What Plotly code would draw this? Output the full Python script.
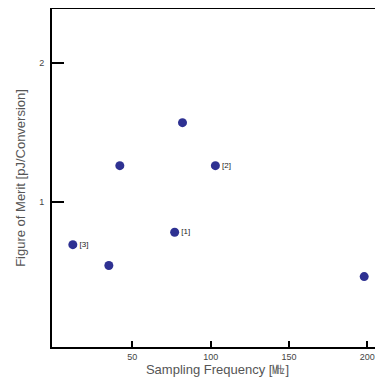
import plotly.graph_objects as go

freq = [12, 35, 42, 82, 77, 103, 198]
fom = [0.69, 0.54, 1.26, 1.57, 0.78, 1.26, 0.46]
labels = ["[3]", "", "", "", "[1]", "[2]", ""]
x_ticks = [50, 100, 150, 200]
y_ticks = [1, 2]

fig = go.Figure()
fig.add_trace(go.Scatter(
    x=freq, y=fom, mode="markers+text", text=labels,
    textposition="middle right",
    textfont=dict(size=8, color="#222222", family="Liberation Sans"),
    marker=dict(size=9, color="#2E3192"),
    cliponaxis=False,
))

# page body has an 8px margin, so the figure is offset by 8px
fig.update_layout(
    width=375, height=373,
    margin=dict(l=44, r=0, t=1, b=34, autoexpand=False),
    plot_bgcolor="white", paper_bgcolor="white",
    showlegend=False,
    font=dict(family="Liberation Sans", color="#444444"),
)
fig.update_xaxes(
    range=[-1.3, 210], tickvals=x_ticks, ticks="inside", ticklen=6, tickwidth=2,
    tickcolor="black", showline=True, linecolor="black", linewidth=2, mirror=True,
    showgrid=False, zeroline=False, tickfont=dict(size=9, color="#444444"),
    automargin=False,
    title=dict(text="Sampling Frequency [㎒]", font=dict(size=13, color="#555555"), standoff=1),
)
fig.update_yaxes(
    range=[-0.048, 2.39], tickvals=y_ticks, ticks="inside", ticklen=12, tickwidth=2,
    tickcolor="black", showline=True, linecolor="black", linewidth=2, mirror=False,
    showgrid=False, zeroline=False, tickfont=dict(size=9, color="#444444"),
    automargin=False, ticklabelstandoff=4,
    title=dict(text="Figure of Merit [pJ/Conversion]", font=dict(size=13, color="#555555"), standoff=11),
)

fig.write_html("out.html")
